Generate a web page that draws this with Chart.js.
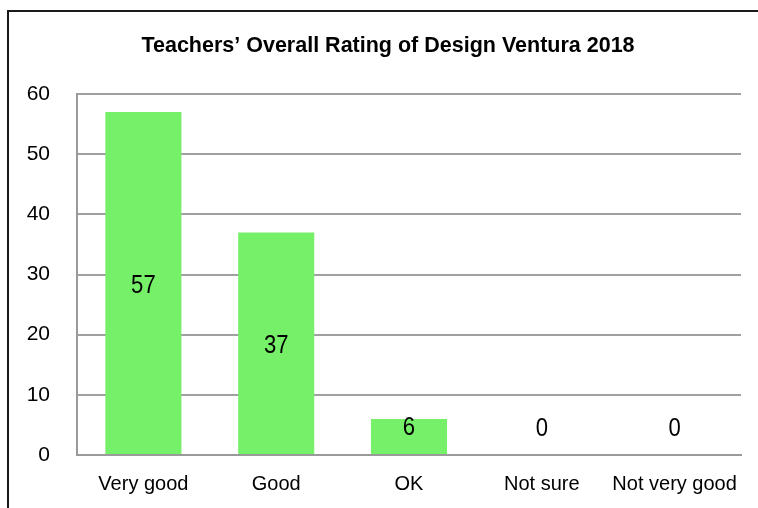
<!DOCTYPE html>
<html>
<head>
<meta charset="utf-8">
<script src="https://cdn.jsdelivr.net/npm/chart.js@4/dist/chart.umd.min.js"></script>
<style>
  html, body { margin: 0; padding: 0; background: #fff; }
  #wrap { position: relative; width: 758px; height: 508px; }
</style>
</head>
<body>
<div id="wrap"><canvas id="rating-chart"></canvas></div>
<script>
// Chart data
const categories = ['Very good', 'Good', 'OK', 'Not sure', 'Not very good'];
const ratingCounts = [57, 37, 6, 0, 0];
const yTicks = [0, 10, 20, 30, 40, 50, 60];
const chartTitle = 'Teachers\u2019 Overall Rating of Design Ventura 2018';

const FONT = "'Liberation Sans', Arial, sans-serif";

// Frame around the chart plus the title (slightly right of canvas centre)
const framePlugin = {
  id: 'frame',
  beforeDraw(chart) {
    const ctx = chart.ctx;
    ctx.save();
    ctx.strokeStyle = '#1a1a1a';
    ctx.lineWidth = 2;
    ctx.beginPath();
    ctx.moveTo(8, chart.height);
    ctx.lineTo(8, 11);
    ctx.lineTo(chart.width, 11);
    ctx.stroke();

    ctx.font = 'bold 21.5px ' + FONT;
    ctx.fillStyle = '#000';
    ctx.textAlign = 'center';
    ctx.textBaseline = 'middle';
    ctx.fillText(chartTitle, 388, 46);
    ctx.restore();
  }
};

// Value labels drawn in the middle of each bar (condensed look)
const valueLabels = {
  id: 'valueLabels',
  afterDatasetsDraw(chart) {
    const ctx = chart.ctx;
    const meta = chart.getDatasetMeta(0);
    ctx.font = '26px ' + FONT;
    ctx.fillStyle = '#000';
    ctx.textAlign = 'center';
    ctx.textBaseline = 'middle';
    meta.data.forEach((bar, i) => {
      const mid = (bar.y + bar.base) / 2;
      const y = Math.min(mid, bar.base - 29) + 3;
      ctx.save();
      ctx.translate(bar.x, y);
      ctx.scale(0.85, 1);
      ctx.fillText(String(ratingCounts[i]), 0, 0);
      ctx.restore();
    });
  }
};

new Chart(document.getElementById('rating-chart'), {
  type: 'bar',
  data: {
    labels: categories,
    datasets: [{
      data: ratingCounts,
      backgroundColor: '#76f068',
      borderWidth: 0,
      barPercentage: 0.573,
      categoryPercentage: 1
    }]
  },
  options: {
    responsive: true,
    maintainAspectRatio: false,
    animation: false,
    layout: { padding: { left: 0, right: 17, top: 94, bottom: 0 } },
    plugins: {
      legend: { display: false },
      tooltip: { enabled: false },
      title: { display: false }
    },
    scales: {
      x: {
        grid: { display: false, drawTicks: false },
        border: { display: true, color: '#9a9a9a', width: 2 },
        ticks: { color: '#000', font: { family: FONT, size: 20 }, padding: 17, maxRotation: 0, autoSkip: false },
        afterFit(scale) { scale.height = 53; }
      },
      y: {
        min: 0,
        max: 60,
        afterBuildTicks(scale) { scale.ticks = yTicks.map(v => ({ value: v })); },
        grid: { color: '#a0a0a0', lineWidth: 2, drawTicks: false },
        border: { display: true, color: '#9a9a9a', width: 2 },
        ticks: { color: '#000', font: { family: FONT, size: 21 }, padding: 27 },
        afterFit(scale) { scale.width = 77; }
      }
    }
  },
  plugins: [framePlugin, valueLabels]
});
</script>
</body>
</html>
